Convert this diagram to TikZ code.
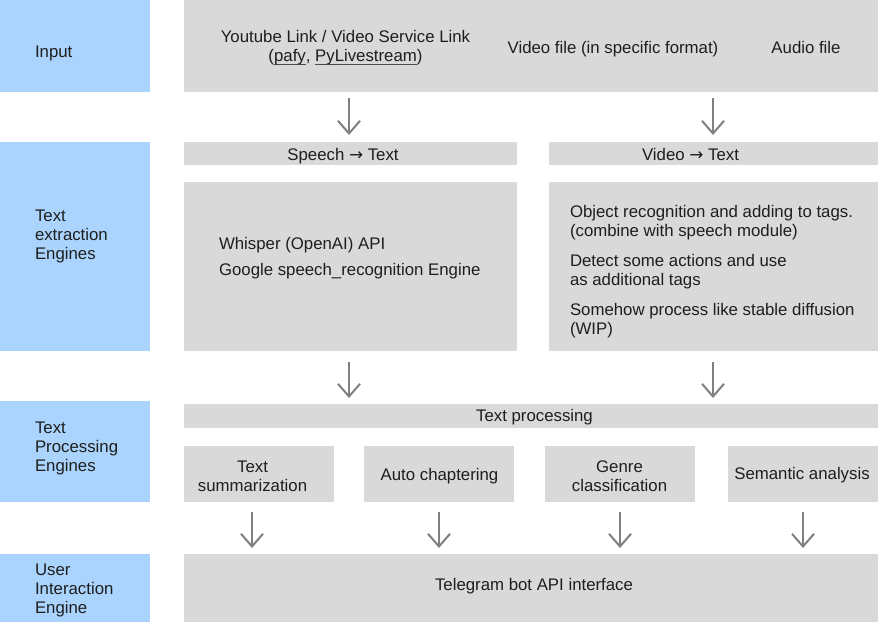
\documentclass[tikz,border=0pt]{standalone}
\usepackage{fontspec}
\setmainfont{Liberation Sans}
\newfontfamily\arrfont{DejaVu Sans}
\usetikzlibrary{arrows.meta}
\newdimen\pxu \pxu=0.75pt
\definecolor{bluebox}{RGB}{170,212,253}
\definecolor{graybox}{RGB}{217,217,217}
\definecolor{arrowgray}{RGB}{128,128,128}
\definecolor{txtcol}{RGB}{30,30,30}
\newcommand\myul[1]{\setbox0\hbox{#1}\rlap{\textcolor{txtcol!80}{\rule[-2.4pt]{\wd0}{0.7pt}}}\box0}
\newcommand\rarr{\raisebox{0.3pt}{\arrfont →}}
\tikzset{
  bx/.style={anchor=north west, inner sep=0, outer sep=0, draw=none},
  bluebx/.style={bx, fill=bluebox},
  graybx/.style={bx, fill=graybox},
  txt/.style={inner sep=0, outer sep=0, yshift=-2.5\pxu, text=txtcol, font=\fontsize{12.6}{14.25}\selectfont},
  arr/.style={draw=arrowgray, line width=1.5pt, -{Straight Barb[length=9.5pt, width=16.5pt, line width=1.5pt]}}
}
\begin{document}
\begin{tikzpicture}[x=0.75pt, y=-0.75pt]
\useasboundingbox[fill=white] (0,0) rectangle (878,622);
% left labels
\node[bluebx, minimum width=150\pxu, minimum height=92\pxu] (bl1) at (0,0) {};
\node[bluebx, minimum width=150\pxu, minimum height=209\pxu] (bl2) at (0,142) {};
\node[bluebx, minimum width=150\pxu, minimum height=101\pxu] (bl3) at (0,401) {};
\node[bluebx, minimum width=150\pxu, minimum height=68\pxu] (bl4) at (0,554) {};
\node[txt, anchor=west] (t1) at (35,51) {Input};
\node[txt, anchor=west, align=left] (t2) at (35,234) {Text\\extraction\\Engines};
\node[txt, anchor=west, align=left] (t3) at (35,446) {Text\\Processing\\Engines};
\node[txt, anchor=west, align=left] (t4) at (35,588) {User\\Interaction\\Engine};
% gray boxes
\node[graybx, minimum width=694\pxu, minimum height=92\pxu] (in) at (184,0) {};
\node[graybx, minimum width=333\pxu, minimum height=23\pxu] (st) at (184,142) {};
\node[graybx, minimum width=329\pxu, minimum height=23\pxu] (vt) at (549,142) {};
\node[graybx, minimum width=333\pxu, minimum height=169\pxu] (sb) at (184,182) {};
\node[graybx, minimum width=329\pxu, minimum height=169\pxu] (vb) at (549,182) {};
\node[graybx, minimum width=694\pxu, minimum height=24\pxu] (tp) at (184,404) {};
\node[graybx, minimum width=150\pxu, minimum height=56\pxu] (s1) at (184,446) {};
\node[graybx, minimum width=150\pxu, minimum height=56\pxu] (s2) at (364,446) {};
\node[graybx, minimum width=150\pxu, minimum height=56\pxu] (s3) at (545,446) {};
\node[graybx, minimum width=150\pxu, minimum height=56\pxu] (s4) at (728,446) {};
\node[graybx, minimum width=694\pxu, minimum height=68\pxu] (tg) at (184,554) {};
% texts
\node[txt, align=center] (yt) at (345.5,45.5) {Youtube Link / Video Service Link\\(\myul{pafy}, \myul{PyLivestream})};
\node[txt] (vf) at (613,47) {Video file (in specific format)};
\node[txt] (af) at (806,47) {Audio file\vphantom{p}};
\node[txt] (stt) at (343,154) {Speech \rarr{} Text};
\node[txt] (vtt) at (690.5,154) {Video \rarr{} Text\vphantom{p}};
\node[txt, anchor=west] (w1) at (219,243) {Whisper (OpenAI) API};
\node[txt, anchor=west] (w2) at (219,269) {Google speech\_recognition Engine};
\node[txt, anchor=west, align=left] (o1) at (570,220) {Object recognition and adding to tags.\\(combine with speech module)};
\node[txt, anchor=west, align=left] (o2) at (570,269) {Detect some actions and use\\as additional tags};
\node[txt, anchor=west, align=left] (o3) at (570,318) {Somehow process like stable diffusion\\(WIP)};
\node[txt] (tpt) at (534.5,415) {Text processing};
\node[txt, align=center] (s1t) at (252.5,473.5) {Text\\summarization};
\node[txt] (s2t) at (439.5,474) {Auto chaptering};
\node[txt, align=center] (s3t) at (619.5,473.5) {Genre\\classification};
\node[txt] (s4t) at (802,473) {Semantic analysis};
\node[txt] (tgt) at (534,584) {Telegram bot API interface};
% arrow columns
\coordinate (c1) at (349,0);
\coordinate (c2) at (713,0);
\coordinate (c5) at (252,0);
\coordinate (c6) at (439,0);
\coordinate (c7) at (620,0);
\coordinate (c8) at (803,0);
\draw[arr, shorten <=6\pxu, shorten >=7\pxu] (in.south -| c1) -- (st.north -| c1);
\draw[arr, shorten <=6\pxu, shorten >=7\pxu] (in.south -| c2) -- (vt.north -| c2);
\draw[arr, shorten <=11\pxu, shorten >=6\pxu] (sb.south -| c1) -- (tp.north -| c1);
\draw[arr, shorten <=11\pxu, shorten >=6\pxu] (vb.south -| c2) -- (tp.north -| c2);
\draw[arr, shorten <=10\pxu, shorten >=6\pxu] (s1.south -| c5) -- (tg.north -| c5);
\draw[arr, shorten <=10\pxu, shorten >=6\pxu] (s2.south -| c6) -- (tg.north -| c6);
\draw[arr, shorten <=10\pxu, shorten >=6\pxu] (s3.south -| c7) -- (tg.north -| c7);
\draw[arr, shorten <=10\pxu, shorten >=6\pxu] (s4.south -| c8) -- (tg.north -| c8);
\end{tikzpicture}
\end{document}
